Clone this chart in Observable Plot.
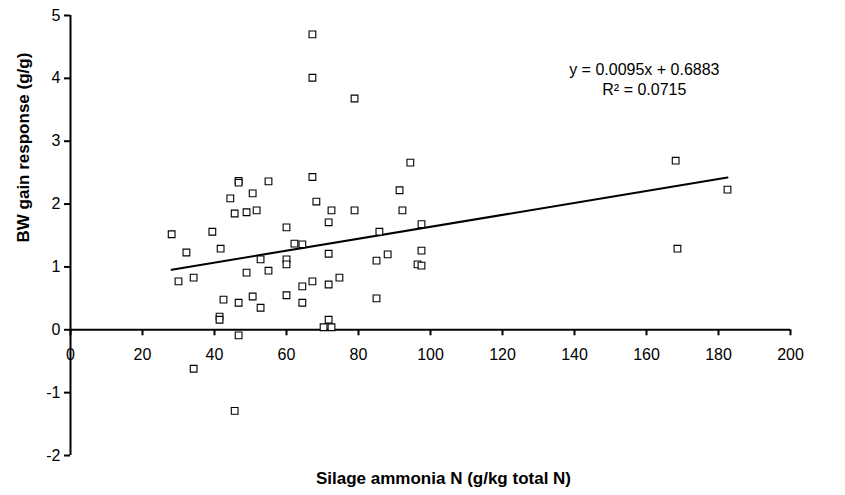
<!DOCTYPE html>
<html>
<head>
<meta charset="utf-8">
<script src="https://cdn.jsdelivr.net/npm/d3@7"></script>
<script src="https://cdn.jsdelivr.net/npm/@observablehq/plot@0.6"></script>
<style>
  body { margin: 0; background: #fff; }
  #chart svg { display: block; }
</style>
</head>
<body>
<div id="chart"></div>
<script>
// Silage ammonia N (g/kg total N)
const ammoniaN = [
  28.1, 30.0, 32.2, 34.2, 34.2, 39.4, 41.7, 41.4, 41.4, 42.5,
  44.4, 45.6, 45.6, 46.7, 46.7, 46.7, 46.7, 48.9, 48.9, 50.6,
  50.6, 51.7, 52.8, 52.8, 55.0, 55.0, 60.0, 60.0, 60.0, 60.0,
  62.2, 64.4, 64.4, 64.4, 67.2, 67.2, 67.2, 67.2, 68.3, 70.3,
  71.7, 71.7, 71.7, 71.7, 72.5, 72.5, 74.7, 78.9, 78.9, 85.0,
  85.0, 85.8, 88.1, 91.4, 92.2, 94.4, 96.4, 97.5, 97.5, 97.5,
  168.1, 168.6, 182.5
];
// BW gain response (g/g)
const bwGain = [
  1.52, 0.77, 1.23, 0.83, -0.62, 1.56, 1.29, 0.21, 0.16, 0.48,
  2.09, 1.85, -1.29, 2.37, 2.34, 0.43, -0.09, 1.87, 0.91, 2.17,
  0.53, 1.90, 1.12, 0.35, 2.36, 0.94, 1.63, 1.12, 1.04, 0.55,
  1.37, 1.36, 0.69, 0.43, 4.70, 4.01, 2.43, 0.77, 2.04, 0.04,
  1.71, 1.21, 0.72, 0.16, 1.90, 0.04, 0.83, 3.68, 1.90, 1.10,
  0.50, 1.56, 1.20, 2.22, 1.90, 2.66, 1.04, 1.68, 1.26, 1.02,
  2.69, 1.29, 2.23
];
// Trendline (as printed on the chart)
const slope = 0.0095;
const intercept = 0.6883;
const equationLines = ["y = 0.0095x + 0.6883", "R\u00B2 = 0.0715"];

const xTicks = [0, 20, 40, 60, 80, 100, 120, 140, 160, 180, 200];
const yTicks = [-2, -1, 0, 1, 2, 3, 4, 5];
const xLabel = "Silage ammonia N (g/kg total N)";
const yLabel = "BW gain response (g/g)";

const points = ammoniaN.map((x, i) => ({x, y: bwGain[i]}));
const xExtent = d3.extent(ammoniaN);
const trend = xExtent.map(x => ({x, y: slope * x + intercept}));

const chart = Plot.plot({
  width: 845,
  height: 495,
  marginLeft: 70,
  marginRight: 55,
  marginTop: 15,
  marginBottom: 40,
  style: {fontFamily: "'Liberation Sans', Arial, sans-serif", fontSize: "16px", color: "#000", background: "#fff"},
  x: {domain: [0, 200], axis: null},
  y: {domain: [-2, 5]},
  marks: [
    Plot.axisY({ticks: yTicks, tickSize: 6, tickPadding: 4, strokeWidth: 2, label: null, tickFormat: d => String(d)}),
    Plot.ruleX([0], {stroke: "#000", strokeWidth: 2}),
    Plot.ruleY([0], {x1: 0, x2: 200, stroke: "#000", strokeWidth: 2}),
    Plot.ruleX(xTicks, {x: d => d, y1: 0, y2: 0, insetBottom: -6, stroke: "#000", strokeWidth: 2}),
    Plot.text(xTicks, {x: d => d, y: 0, dy: 25, text: d => String(d), fill: "#000"}),
    Plot.line(trend, {x: "x", y: "y", stroke: "#000", strokeWidth: 2}),
    Plot.dot(points, {x: "x", y: "y", symbol: "square", r: 3.8, stroke: "#000", strokeWidth: 1.1, fill: "#fff"}),
    Plot.text([equationLines[0]], {x: 159.4, y: 4.14, text: d => d, fill: "#000"}),
    Plot.text([equationLines[1]], {x: 159.4, y: 3.82, text: d => d, fill: "#000"}),
    Plot.text([xLabel], {frameAnchor: "bottom", dx: 13, dy: 28, text: d => d, fontWeight: "bold", fontSize: 17, fill: "#000"}),
    Plot.text([yLabel], {frameAnchor: "left", rotate: -90, dx: -47, dy: 7, text: d => d, fontWeight: "bold", fontSize: 17, fill: "#000"})
  ]
});
document.getElementById("chart").append(chart);
</script>
</body>
</html>
